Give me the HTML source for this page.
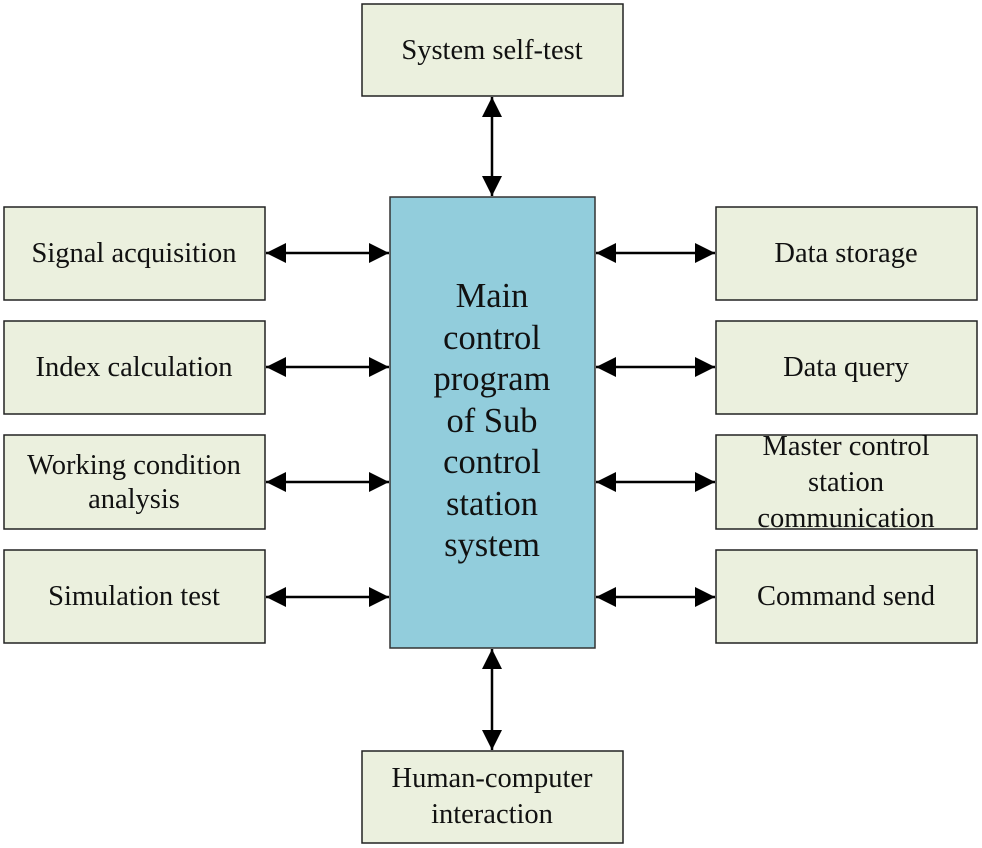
<!DOCTYPE html>
<html><head><meta charset="utf-8"><style>
html,body{margin:0;padding:0;background:#fff;}
svg{display:block;}
text{font-family:"Liberation Serif",serif;fill:#111;}
.b{fill:#ebf0de;stroke:#222;stroke-width:1.5;}
.t{font-size:28.5px;text-anchor:middle;}
.m{font-size:34.5px;text-anchor:middle;}
line{stroke:#000;stroke-width:2.5;}
</style></head><body>
<svg width="982" height="848" viewBox="0 0 982 848" xmlns="http://www.w3.org/2000/svg">
<defs>
<marker id="a" viewBox="0 0 10 10" refX="10" refY="5" markerWidth="28" markerHeight="20" markerUnits="userSpaceOnUse" orient="auto-start-reverse">
<path d="M0,0 L10,5 L0,10 z" fill="#000"/>
</marker>
</defs>
<rect class="b" x="362" y="4" width="261" height="92"/>
<text class="t" x="492" y="59">System self-test</text>
<line x1="492" y1="97" x2="492" y2="196" marker-start="url(#a)" marker-end="url(#a)"/>
<rect x="390" y="197" width="205" height="451" fill="#92cddc" stroke="#333" stroke-width="1.5"/>
<text class="m" x="492" y="307">Main</text>
<text class="m" x="492" y="349">control</text>
<text class="m" x="492" y="390">program</text>
<text class="m" x="492" y="432">of Sub</text>
<text class="m" x="492" y="473">control</text>
<text class="m" x="492" y="515">station</text>
<text class="m" x="492" y="556">system</text>
<line x1="492" y1="649" x2="492" y2="750" marker-start="url(#a)" marker-end="url(#a)"/>
<rect class="b" x="362" y="751" width="261" height="92"/>
<text class="t" x="492" y="787">Human-computer</text>
<text class="t" x="492" y="823">interaction</text>
<rect class="b" x="4" y="207" width="261" height="93"/>
<text class="t" x="134" y="262">Signal acquisition</text>
<rect class="b" x="4" y="321" width="261" height="93"/>
<text class="t" x="134" y="376">Index calculation</text>
<rect class="b" x="4" y="435" width="261" height="94"/>
<text class="t" x="134" y="474">Working condition</text>
<text class="t" x="134" y="508">analysis</text>
<rect class="b" x="4" y="550" width="261" height="93"/>
<text class="t" x="134" y="605">Simulation test</text>
<line x1="266" y1="253" x2="389" y2="253" marker-start="url(#a)" marker-end="url(#a)"/>
<line x1="266" y1="367" x2="389" y2="367" marker-start="url(#a)" marker-end="url(#a)"/>
<line x1="266" y1="482" x2="389" y2="482" marker-start="url(#a)" marker-end="url(#a)"/>
<line x1="266" y1="597" x2="389" y2="597" marker-start="url(#a)" marker-end="url(#a)"/>
<line x1="596" y1="253" x2="715" y2="253" marker-start="url(#a)" marker-end="url(#a)"/>
<line x1="596" y1="367" x2="715" y2="367" marker-start="url(#a)" marker-end="url(#a)"/>
<line x1="596" y1="482" x2="715" y2="482" marker-start="url(#a)" marker-end="url(#a)"/>
<line x1="596" y1="597" x2="715" y2="597" marker-start="url(#a)" marker-end="url(#a)"/>
<rect class="b" x="716" y="207" width="261" height="93"/>
<text class="t" x="846" y="262">Data storage</text>
<rect class="b" x="716" y="321" width="261" height="93"/>
<text class="t" x="846" y="376">Data query</text>
<rect class="b" x="716" y="435" width="261" height="94"/>
<text class="t" x="846" y="455">Master control</text>
<text class="t" x="846" y="491">station</text>
<text class="t" x="846" y="527">communication</text>
<rect class="b" x="716" y="550" width="261" height="93"/>
<text class="t" x="846" y="605">Command send</text>
</svg>
</body></html>
